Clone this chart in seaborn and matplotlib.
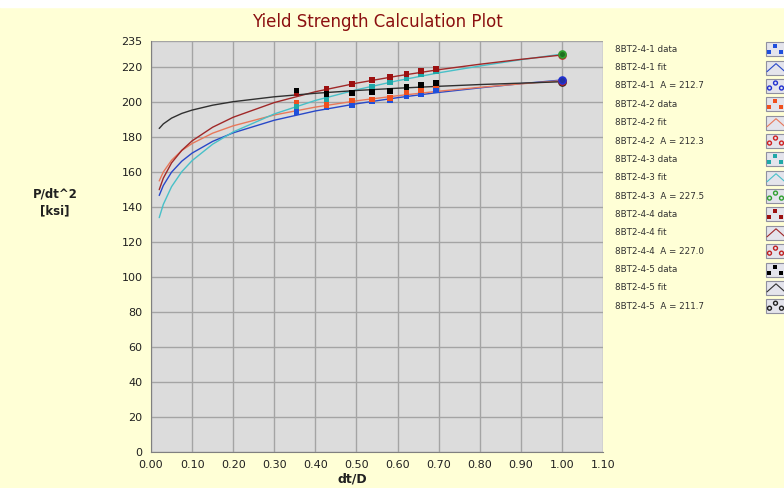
import numpy as np
import pandas as pd
import matplotlib
matplotlib.use("Agg")
import matplotlib.pyplot as plt
import seaborn as sns

# ---------------- data ----------------
series_names = ["8BT2-4-1", "8BT2-4-2", "8BT2-4-3", "8BT2-4-4", "8BT2-4-5"]
a_values = [212.7, 212.3, 227.5, 227.0, 211.7]

data_x = [0.354, 0.427, 0.489, 0.538, 0.582, 0.622, 0.657, 0.693]
data_1 = [194.5, 197.1, 198.1, 200.9, 201.3, 203.6, 204.6, 207.0]
data_2 = [199.6, 198.3, 201.0, 201.5, 202.5, 205.5, 206.8, 209.5]
data_3 = [197.5, 201.9, 205.3, 208.7, 211.4, 213.5, 215.8, 217.7]
data_4 = [205.0, 207.8, 210.5, 212.9, 214.6, 216.1, 217.8, 219.0]
data_5 = [206.7, 204.6, 205.3, 205.9, 206.5, 208.9, 209.9, 210.8]

fit_x = [0.02, 0.03, 0.05, 0.075, 0.10, 0.15, 0.20, 0.30, 0.40, 0.50, 0.60, 0.70, 0.80, 0.90, 1.00]
fit_1 = [146.7, 152.4, 160.0, 166.3, 170.9, 177.6, 182.5, 189.7, 195.0, 199.1, 202.6, 205.6, 208.2, 210.6, 212.7]
fit_2 = [155.0, 160.1, 166.8, 172.4, 176.4, 182.3, 186.5, 192.7, 197.2, 200.8, 203.7, 206.3, 208.5, 210.5, 212.3]
fit_3 = [134.0, 141.6, 151.7, 160.3, 166.6, 176.0, 183.0, 193.3, 201.0, 207.1, 212.3, 216.8, 220.7, 224.3, 227.5]
fit_4 = [150.0, 156.6, 165.3, 172.5, 177.9, 185.7, 191.4, 199.8, 206.0, 210.9, 215.0, 218.6, 221.7, 224.5, 227.0]
fit_5 = [185.0, 187.6, 190.9, 193.6, 195.5, 198.3, 200.3, 203.1, 205.1, 206.7, 208.0, 209.1, 210.1, 210.9, 211.7]

x_ticks = [0.0, 0.1, 0.2, 0.3, 0.4, 0.5, 0.6, 0.7, 0.8, 0.9, 1.0, 1.1]
y_ticks = [0, 20, 40, 60, 80, 100, 120, 140, 160, 180, 200, 220, 235]

data_colors = ["#1f4fdc", "#f0501e", "#20a8a8", "#9c1010", "#000000"]
fit_colors = ["#2848c8", "#e8785a", "#48c0c8", "#a02828", "#303030"]
a_edge = ["#2030d0", "#d02020", "#30a030", "#c02020", "#202020"]
a_face = ["#2030a0", "#a02020", "#207020", "#a02020", "#202020"]

data_sets = [data_1, data_2, data_3, data_4, data_5]
fit_sets = [fit_1, fit_2, fit_3, fit_4, fit_5]

df_data = pd.concat([pd.DataFrame({"x": data_x, "y": d, "s": n}) for d, n in zip(data_sets, series_names)])
df_fit = pd.concat([pd.DataFrame({"x": fit_x, "y": f, "s": n}) for f, n in zip(fit_sets, series_names)])
df_a = pd.DataFrame({"x": [1.0] * 5, "y": a_values, "s": series_names})

# ---------------- figure ----------------
sns.set_style("white")
plt.rcParams["font.family"] = ["DejaVu Sans"]

W, H = 784, 488
fig = plt.figure(figsize=(W / 100, H / 100), dpi=100, facecolor="#ffffd6")
ax = fig.add_axes([151 / W, (H - 452) / H, (603 - 151) / W, (452 - 41) / H])
ax.set_facecolor("#dcdcdc")

fit_pal = dict(zip(series_names, fit_colors))
data_pal = dict(zip(series_names, data_colors))

sns.lineplot(data=df_fit, x="x", y="y", hue="s", palette=fit_pal, ax=ax,
             legend=False, linewidth=1.0, sort=True, estimator=None)
sns.scatterplot(data=df_data, x="x", y="y", hue="s", palette=data_pal, ax=ax,
                legend=False, marker="s", s=17, linewidth=0, zorder=5)
order = [4, 1, 3, 2, 0]
for i in order:
    sub = df_a[df_a["s"] == series_names[i]]
    sns.scatterplot(data=sub, x="x", y="y", ax=ax, legend=False, marker="o", s=24,
                    color=a_face[i], edgecolor=a_edge[i], linewidth=1.3, zorder=6)

ax.set_xlim(0, 1.10)
ax.set_ylim(0, 235)
ax.set_xticks(x_ticks)
ax.set_xticklabels([f"{v:.2f}" for v in x_ticks])
ax.set_yticks(y_ticks)
ax.set_yticklabels([str(v) for v in y_ticks])
ax.grid(True, color="#a4a4a4", linewidth=1.0)
ax.set_axisbelow(True)
ax.tick_params(axis="both", direction="out", length=4, width=1, color="#404040",
               labelsize=8, labelcolor="#202020", pad=2)
for side in ["top", "right"]:
    ax.spines[side].set_visible(False)
ax.spines["left"].set_color("#808080")
ax.spines["bottom"].set_color("#808080")
ax.set_xlabel("")
ax.set_ylabel("")

# overlay for text/legend in pixel coordinates
ov = fig.add_axes([0, 0, 1, 1], facecolor="none")
ov.set_xlim(0, W)
ov.set_ylim(H, 0)
ov.axis("off")
ov.add_patch(plt.Rectangle((0, 0), W, 7, color="white", zorder=0))

ov.text(377, 22, "Yield Strength Calculation Plot", ha="center", va="center",
        color="#8b1010", fontsize=12)
ov.text(55, 194, "P/dt^2", ha="center", va="center", fontsize=8.5, fontweight="bold", color="#202020")
ov.text(55, 211, "[ksi]", ha="center", va="center", fontsize=8.5, fontweight="bold", color="#202020")
ov.text(352, 479, "dt/D", ha="center", va="center", fontsize=9, fontweight="bold", color="#202020")

labels = []
for n, a in zip(series_names, a_values):
    labels += [f"{n} data", f"{n} fit", f"{n}  A = {a:.1f}"]
y0, dy = 49.3, 18.35
for k, lab in enumerate(labels):
    yc = y0 + k * dy
    ov.text(615, yc, lab, ha="left", va="center", fontsize=6.3, color="#303030")
    si, kind = divmod(k, 3)
    ov.add_patch(plt.Rectangle((766, yc - 7), 22, 14, facecolor="#e4e4ec",
                               edgecolor="#9090a0", linewidth=0.8))
    if kind == 0:
        ov.scatter([769.5, 775.5, 781.5], [yc + 3, yc - 3, yc + 3], marker="s", s=6,
                   color=data_colors[si], linewidth=0)
    elif kind == 1:
        ov.plot([767, 776, 785], [yc + 4, yc - 4, yc + 4], color=fit_colors[si], linewidth=0.8)
    else:
        ov.scatter([769.5, 775.5, 781.5], [yc + 2, yc - 3, yc + 2], marker="o", s=8,
                   facecolor="none", edgecolor=a_edge[si], linewidth=1.0)

fig.savefig("out.png", dpi=100, facecolor=fig.get_facecolor())
